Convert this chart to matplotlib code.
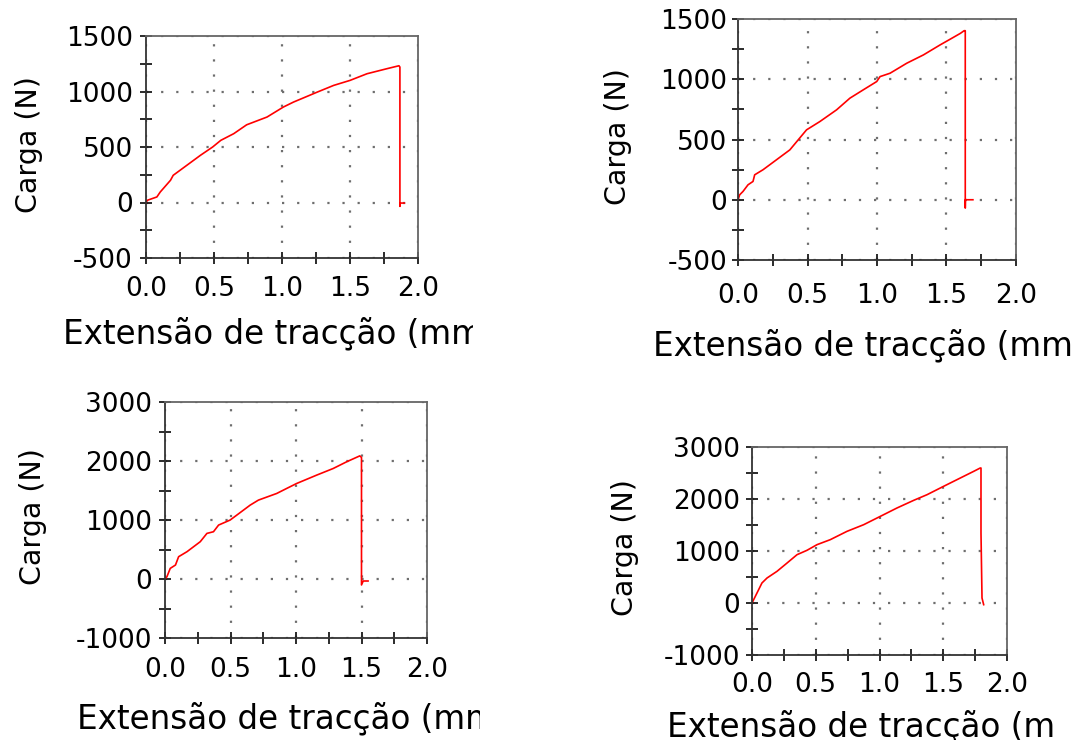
import matplotlib
matplotlib.use("Agg")
import matplotlib.pyplot as plt
from matplotlib.ticker import MultipleLocator
from matplotlib.transforms import Bbox

plt.rcParams['font.family'] = ['DejaVu Sans']
plt.rcParams['axes.unicode_minus'] = False

W, H = 1075, 740

# Ensaio 1
x1 = [0, 0.01, 0.08, 0.105, 0.18, 0.20, 0.30, 0.40, 0.49, 0.55, 0.645, 0.74, 0.89, 1.01,
      1.085, 1.26, 1.38, 1.50, 1.625, 1.77, 1.86, 1.867, 1.867, 1.87, 1.90]
y1 = [0, 20, 50, 95, 200, 245, 335, 425, 500, 560, 620, 700, 770, 860,
      905, 995, 1055, 1100, 1160, 1205, 1232, 1220, -35, -5, -5]
# Ensaio 2
x2 = [0, 0.012, 0.036, 0.072, 0.108, 0.12, 0.18, 0.276, 0.373, 0.493, 0.589, 0.709, 0.805,
      0.901, 0.998, 1.022, 1.094, 1.214, 1.334, 1.454, 1.538, 1.60, 1.627, 1.635, 1.635, 1.636, 1.69]
y2 = [0, 41, 69, 124, 152, 207, 249, 331, 414, 580, 649, 746, 843,
      912, 981, 1022, 1050, 1133, 1202, 1285, 1340, 1381, 1403, 1403, -69, 0, 0]
# Ensaio 3
x3 = [0, 0.015, 0.04, 0.08, 0.104, 0.168, 0.269, 0.32, 0.37, 0.409, 0.497, 0.548, 0.65,
      0.713, 0.853, 0.929, 1.005, 1.157, 1.284, 1.386, 1.487, 1.50, 1.50, 1.513, 1.55]
y3 = [0, 40, 180, 237, 378, 463, 632, 773, 801, 914, 999, 1083, 1252,
      1337, 1450, 1535, 1619, 1760, 1873, 1986, 2087, 2060, -101, -34, -34]
# Ensaio 4
x4 = [0, 0.013, 0.039, 0.078, 0.118, 0.196, 0.275, 0.353, 0.431, 0.51, 0.614, 0.745, 0.876,
      1.007, 1.137, 1.268, 1.373, 1.503, 1.634, 1.739, 1.79, 1.796, 1.796, 1.804, 1.817]
y4 = [0, 64, 192, 385, 481, 609, 769, 929, 1013, 1122, 1218, 1378, 1506,
      1667, 1827, 1974, 2083, 2244, 2404, 2532, 2596, 2596, 1346, 96, -32]

ylims = [(-500, 1500), (-500, 1500), (-1000, 3000), (-1000, 3000)]
ysteps = [500, 500, 1000, 1000]

xlabel_txt = u"Extensão de tracção (mm)"
ylabel_txt = "Carga (N)"

# layout (pixels): axes box, tick pads, ylabel centre, xlabel start/baseline, clip right
panels = [
    dict(box=(146, 36, 418, 258), pads=(8.5, 4.9), yl=(29, 145), xl=(63, 343), clip=473),
    dict(box=(738, 19, 1016, 260), pads=(12, 3.4), yl=(618, 137), xl=(653, 355), clip=1075),
    dict(box=(165, 402, 427, 638), pads=(9.2, 4.9), yl=(33, 517), xl=(77, 728), clip=480),
    dict(box=(752, 447, 1007, 655), pads=(7.8, 4.1), yl=(625, 548), xl=(667, 736), clip=1058),
]

fig = plt.figure(figsize=(W / 100, H / 100), dpi=100)

for i, (xs, ys) in enumerate([(x1, y1), (x2, y2), (x3, y3), (x4, y4)]):
    p = panels[i]
    l, t, r, b = p['box']
    ax = fig.add_axes([l / W, 1 - b / H, (r - l) / W, (b - t) / H])
    ax.plot(xs, ys, color='#ff0000', lw=1.2)
    ax.set_xlim(0, 2)
    ax.set_ylim(*ylims[i])
    ax.xaxis.set_major_locator(MultipleLocator(0.5))
    ax.xaxis.set_minor_locator(MultipleLocator(0.25))
    ax.yaxis.set_major_locator(MultipleLocator(ysteps[i]))
    ax.yaxis.set_minor_locator(MultipleLocator(ysteps[i] / 2))
    ax.xaxis.set_major_formatter(plt.FormatStrFormatter('%.1f'))
    ax.tick_params(which='both', direction='inout', length=9, width=1.3, color='#1a1a1a')
    ax.tick_params(axis='x', labelsize=19, pad=p['pads'][0])
    ax.tick_params(axis='y', labelsize=19, pad=p['pads'][1])
    ax.grid(True, which='major', color='#6e6e6e', lw=1.6, linestyle=(0, (1, 5.8)))
    for s in ['left', 'bottom']:
        ax.spines[s].set_color('#333333')
        ax.spines[s].set_linewidth(1.3)
    for s in ['top', 'right']:
        ax.spines[s].set_color('#666666')
        ax.spines[s].set_linewidth(1.3)

    fig.text(p['yl'][0] / W, 1 - p['yl'][1] / H, ylabel_txt, rotation=90,
             ha='center', va='center', fontsize=20.5)
    tx = fig.text(p['xl'][0] / W, 1 - p['xl'][1] / H, xlabel_txt,
                  ha='left', va='baseline', fontsize=23.5)
    tx.set_clip_box(Bbox.from_extents(0, 0, p['clip'], H))
    tx.set_clip_on(True)

fig.savefig('out.png', dpi=100)
